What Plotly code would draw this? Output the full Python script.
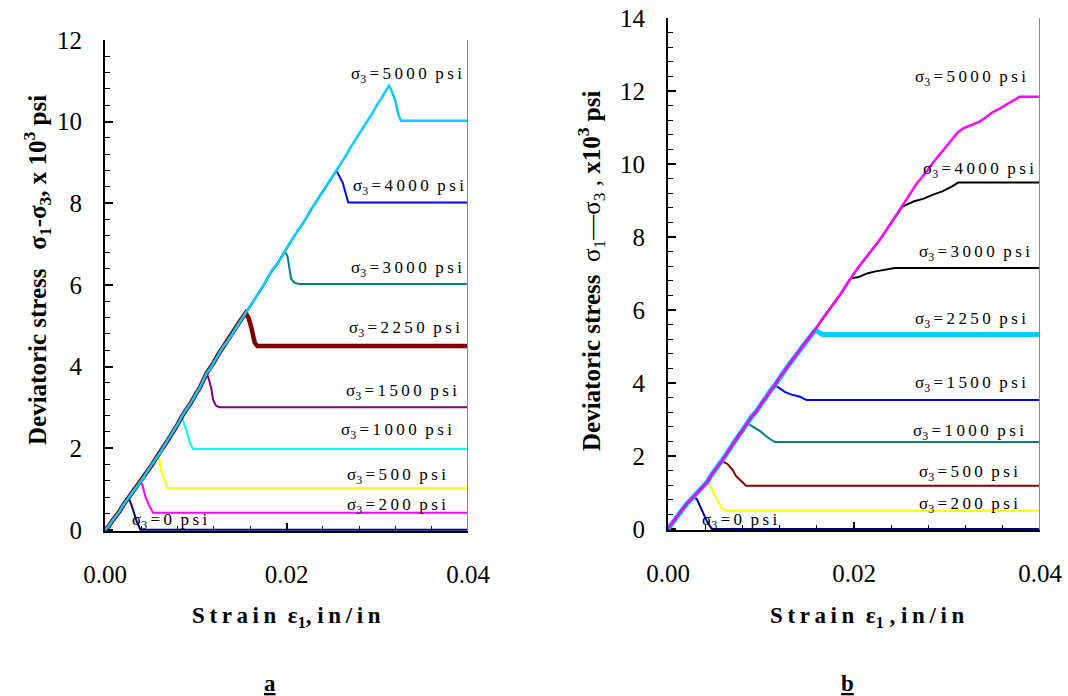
import plotly.graph_objects as go

FONT = "Liberation Serif"

# ---------------- Panel a data ----------------
a_load_strain = [0.0000, 0.0004, 0.0008, 0.0012, 0.0016, 0.0020, 0.0024, 0.0026, 0.0030, 0.0034,
                 0.0039, 0.0043, 0.0047, 0.0052, 0.0057, 0.0061, 0.0065, 0.0070, 0.0075, 0.0080,
                 0.0085, 0.0090, 0.0095, 0.0100, 0.0105, 0.0112, 0.0116, 0.0120, 0.0125, 0.0130,
                 0.0135, 0.0140, 0.0145, 0.0150, 0.0155, 0.0160, 0.0165, 0.0170, 0.0175, 0.0180,
                 0.0185, 0.0190, 0.0195, 0.0198, 0.0203, 0.0208, 0.0213, 0.0218, 0.0223, 0.0228,
                 0.0233, 0.0238, 0.0243, 0.0248, 0.0255, 0.0260, 0.0265, 0.0270, 0.0275, 0.0280,
                 0.0285, 0.0290, 0.0295, 0.0300, 0.0305, 0.0310, 0.0313]
a_load_stress = [0.00, 0.08, 0.22, 0.33, 0.45, 0.60, 0.72, 0.78, 0.90, 1.02,
                 1.17, 1.30, 1.45, 1.60, 1.78, 1.90, 2.05, 2.22, 2.38, 2.58,
                 2.79, 2.95, 3.12, 3.32, 3.50, 3.84, 3.95, 4.10, 4.30, 4.48,
                 4.62, 4.80, 4.98, 5.15, 5.31, 5.48, 5.65, 5.85, 6.00, 6.20,
                 6.38, 6.52, 6.72, 6.82, 7.00, 7.18, 7.35, 7.50, 7.70, 7.88,
                 8.05, 8.22, 8.38, 8.55, 8.80, 8.98, 9.15, 9.35, 9.52, 9.70,
                 9.85, 10.05, 10.22, 10.42, 10.58, 10.78, 10.88]
a_sigma3 = ["0", "200", "500", "1000", "1500", "2250", "3000", "4000", "5000"]
a_colors = ["#000080", "#FF00FF", "#FFFF00", "#00FFFF", "#800080", "#800000", "#008080", "#0000FF", "#00CCFF"]
a_widths = [2, 2, 2, 2, 2, 4.5, 2, 2, 2.5]
a_peak_strain = [0.0026, 0.0039, 0.0057, 0.0085, 0.0112, 0.0155, 0.0198, 0.0255, 0.0313]
a_post_strain = [
    [0.0029, 0.0032, 0.0035, 0.0039, 0.04],
    [0.0041, 0.0044, 0.0048, 0.0053, 0.04],
    [0.0060, 0.0062, 0.0066, 0.0069, 0.04],
    [0.0087, 0.0091, 0.0094, 0.0097, 0.04],
    [0.0114, 0.0117, 0.0119, 0.0122, 0.0126, 0.04],
    [0.0158, 0.0161, 0.0163, 0.0165, 0.0168, 0.04],
    [0.0201, 0.0203, 0.0205, 0.0209, 0.0214, 0.04],
    [0.0262, 0.0268, 0.04],
    [0.0316, 0.0320, 0.0323, 0.0326, 0.04],
]
a_post_stress = [
    [0.62, 0.42, 0.20, 0.00, 0.00],
    [1.12, 0.85, 0.62, 0.42, 0.42],
    [1.72, 1.45, 1.20, 1.02, 1.02],
    [2.60, 2.35, 2.10, 1.98, 1.98],
    [3.72, 3.48, 3.20, 3.05, 3.00, 3.00],
    [5.20, 4.98, 4.70, 4.58, 4.50, 4.50],
    [6.72, 6.40, 6.15, 6.05, 6.02, 6.02],
    [8.50, 8.02, 8.02],
    [10.75, 10.50, 10.20, 10.02, 10.02],
]
a_label_x = [0.0028, 0.0378, 0.0378, 0.0385, 0.0390, 0.0393, 0.0396, 0.0398, 0.0396]
a_label_y = [0.22, 0.59, 1.32, 2.42, 3.37, 4.91, 6.38, 8.39, 11.15]

# ---------------- Panel b data ----------------
b_load_strain = [0.0000, 0.0005, 0.0010, 0.0015, 0.0020, 0.0027, 0.0031, 0.0036, 0.0042, 0.0046,
                 0.0050, 0.0054, 0.0058, 0.0062, 0.0066, 0.0070, 0.0075, 0.0080, 0.0085, 0.0090,
                 0.0095, 0.0100, 0.0105, 0.0110, 0.0115, 0.0120, 0.0125, 0.0130, 0.0135, 0.0140,
                 0.0145, 0.0150, 0.0157, 0.0162, 0.0166, 0.0171, 0.0176, 0.0181, 0.0186, 0.0191,
                 0.0196, 0.0200, 0.0205, 0.0210, 0.0215, 0.0219, 0.0224, 0.0228, 0.0233, 0.0238,
                 0.0243, 0.0248, 0.0252, 0.0257, 0.0262, 0.0267, 0.0272, 0.0277, 0.0282, 0.0287,
                 0.0292, 0.0297, 0.0302, 0.0307, 0.0312, 0.0318, 0.0324, 0.0330, 0.0335, 0.0342,
                 0.0348, 0.0354, 0.0360, 0.0366, 0.0372, 0.0378, 0.0400]
b_load_stress = [0.00, 0.18, 0.35, 0.52, 0.68, 0.87, 0.98, 1.12, 1.28, 1.45,
                 1.58, 1.72, 1.86, 2.02, 2.18, 2.35, 2.52, 2.70, 2.90, 3.08,
                 3.22, 3.42, 3.58, 3.78, 3.94, 4.15, 4.32, 4.50, 4.66, 4.85,
                 5.02, 5.18, 5.41, 5.60, 5.75, 5.92, 6.10, 6.28, 6.45, 6.65,
                 6.86, 7.00, 7.18, 7.35, 7.52, 7.66, 7.80, 7.93, 8.12, 8.30,
                 8.50, 8.68, 8.83, 9.05, 9.25, 9.45, 9.60, 9.75, 9.93, 10.10,
                 10.25, 10.40, 10.55, 10.72, 10.88, 10.98, 11.05, 11.10, 11.16, 11.28,
                 11.40, 11.48, 11.57, 11.67, 11.76, 11.84, 11.84]
b_sigma3 = ["0", "200", "500", "1000", "1500", "2250", "3000", "4000", "5000"]
b_colors = ["#000080", "#FFFF00", "#800000", "#008080", "#0000FF", "#00CCFF", "#000000", "#000000", "#FF00FF"]
b_widths = [2, 2, 2, 2, 2, 5, 2, 2, 2.5]
b_peak_strain = [0.0027, 0.0042, 0.0058, 0.0085, 0.0115, 0.0157, 0.0196, 0.0252, 0.0400]
b_post_strain = [
    [0.0031, 0.0034, 0.0038, 0.0042, 0.0047, 0.04],
    [0.0045, 0.0049, 0.0054, 0.0058, 0.0063, 0.04],
    [0.0064, 0.0070, 0.0073, 0.0077, 0.0084, 0.04],
    [0.0099, 0.0108, 0.0115, 0.04],
    [0.0126, 0.0133, 0.0142, 0.0149, 0.04],
    [0.0160, 0.0166, 0.04],
    [0.0205, 0.0214, 0.0222, 0.0232, 0.0244, 0.04],
    [0.0264, 0.0275, 0.0285, 0.0295, 0.0305, 0.0312, 0.04],
    [],
]
b_post_stress = [
    [0.82, 0.65, 0.40, 0.20, 0.00, 0.00],
    [1.20, 1.00, 0.75, 0.55, 0.50, 0.50],
    [1.78, 1.60, 1.45, 1.35, 1.18, 1.18],
    [2.68, 2.49, 2.38, 2.38],
    [3.75, 3.68, 3.62, 3.53, 3.53],
    [5.42, 5.33, 5.33],
    [6.90, 7.00, 7.05, 7.10, 7.15, 7.15],
    [8.97, 9.05, 9.16, 9.25, 9.38, 9.49, 9.49],
    [],
]
b_label_x = [0.0034, 0.0379, 0.0379, 0.0385, 0.0387, 0.0387, 0.0391, 0.0396, 0.0387]
b_label_y = [0.22, 0.66, 1.53, 2.65, 3.97, 5.72, 7.57, 9.84, 12.36]

# ---------------- figure ----------------
W, H = 1068, 696
fig = go.Figure()

TS = "\u2009"
NB = "\u00a0"


def spaced(s):
    return TS.join(s)


def label_text(v):
    return "σ<sub>3</sub>" + TS + "=" + TS + spaced(v) + NB + NB + spaced("psi")


def add_panel(load_x, load_y, sig, colors, widths, peaks, post_x, post_y, lx, ly, xa, ya):
    for i in range(len(sig)):
        xs = [x for x in load_x if x <= peaks[i] + 1e-9]
        ys = load_y[:len(xs)]
        xs = xs + post_x[i]
        ys = ys + post_y[i]
        fig.add_trace(go.Scatter(x=xs, y=ys, mode="lines", xaxis=xa, yaxis=ya,
                                 line=dict(color=colors[i], width=widths[i]),
                                 showlegend=False, hoverinfo="skip"))
        fig.add_annotation(x=lx[i], y=ly[i], xref=xa, yref=ya, text=label_text(sig[i]),
                           showarrow=False, xanchor="left" if i == 0 else "right",
                           yanchor="middle", font=dict(family=FONT, size=17, color="black"))


add_panel(a_load_strain, a_load_stress, a_sigma3, a_colors, a_widths, a_peak_strain,
          a_post_strain, a_post_stress, a_label_x, a_label_y, "x", "y")
add_panel(b_load_strain, b_load_stress, b_sigma3, b_colors, b_widths, b_peak_strain,
          b_post_strain, b_post_stress, b_label_x, b_label_y, "x2", "y2")


def xaxis_cfg(dom, anchor):
    return dict(domain=dom, anchor=anchor, range=[0, 0.04], tickvals=[0, 0.02, 0.04],
                tickformat=".2f", ticks="inside", ticklen=8, tickwidth=1.5, tickcolor="black",
                minor=dict(dtick=0.004, tick0=0, ticks="inside", ticklen=5, tickwidth=1, tickcolor="black"),
                showline=True, linecolor="black", linewidth=2, showgrid=False, zeroline=False,
                tickfont=dict(family=FONT, size=25, color="black"), ticklabelstandoff=20,
                layer="below traces", automargin=False)


def yaxis_cfg(dom, anchor, top):
    return dict(domain=dom, anchor=anchor, range=[-0.03, top], dtick=2, tick0=0,
                ticks="inside", ticklen=8, tickwidth=1.5, tickcolor="black",
                minor=dict(dtick=0.4, tick0=0, ticks="inside", ticklen=5, tickwidth=1, tickcolor="black"),
                showline=True, linecolor="black", linewidth=2, showgrid=False, zeroline=False,
                tickfont=dict(family=FONT, size=25, color="black"), ticklabelstandoff=16,
                layer="below traces", automargin=False)


fig.update_layout(
    width=W, height=H, margin=dict(l=0, r=0, t=0, b=0, autoexpand=False),
    paper_bgcolor="white", plot_bgcolor="white",
    xaxis=xaxis_cfg([105 / W, 468 / W], "y"),
    yaxis=yaxis_cfg([1 - 531 / H, 1 - 40 / H], "x", 12),
    xaxis2=xaxis_cfg([668 / W, 1040 / W], "y2"),
    yaxis2=yaxis_cfg([1 - 530 / H, 1 - 18 / H], "x2", 14),
)

# gray right border of each plot area
for xa, ya in [("x", "y domain"), ("x2", "y2 domain")]:
    fig.add_shape(type="line", xref=xa, yref=ya, x0=0.04, x1=0.04, y0=0, y1=1,
                  line=dict(color="#8c8c8c", width=2))


def paper_text(px, py, text, font, angle=0):
    fig.add_annotation(xref="paper", yref="paper", x=px / W, y=1 - py / H, text=text,
                       showarrow=False, xanchor="center", yanchor="middle",
                       textangle=angle, font=font)


title_font = dict(family=FONT, size=25, color="black")
paper_text(37, 270, "<b>Deviatoric stress" + NB * 3 + "σ<sub>1</sub>-σ<sub>3</sub>, x 10<sup>3</sup> psi</b>",
           title_font, -90)
paper_text(591, 271, "<b>Deviatoric stress</b>" + NB * 2 + "σ<sub>1</sub>—σ<sub>3</sub>" + NB + ", <b>x10<sup>3</sup> psi</b>",
           title_font, -90)
xt_font = dict(family=FONT, size=23, color="black")
paper_text(286, 617, "<b>" + spaced("Strain") + NB + NB + "ε<sub>1</sub>," + NB + spaced("in/in") + "</b>", xt_font)
paper_text(867, 617, "<b>" + spaced("Strain") + NB + NB + "ε<sub>1</sub>" + NB + "," + NB + spaced("in/in") + "</b>", xt_font)
paper_text(270, 683, "<b><u>a</u></b>", xt_font)
paper_text(847, 683, "<b><u>b</u></b>", xt_font)

fig.write_html("out.html")
